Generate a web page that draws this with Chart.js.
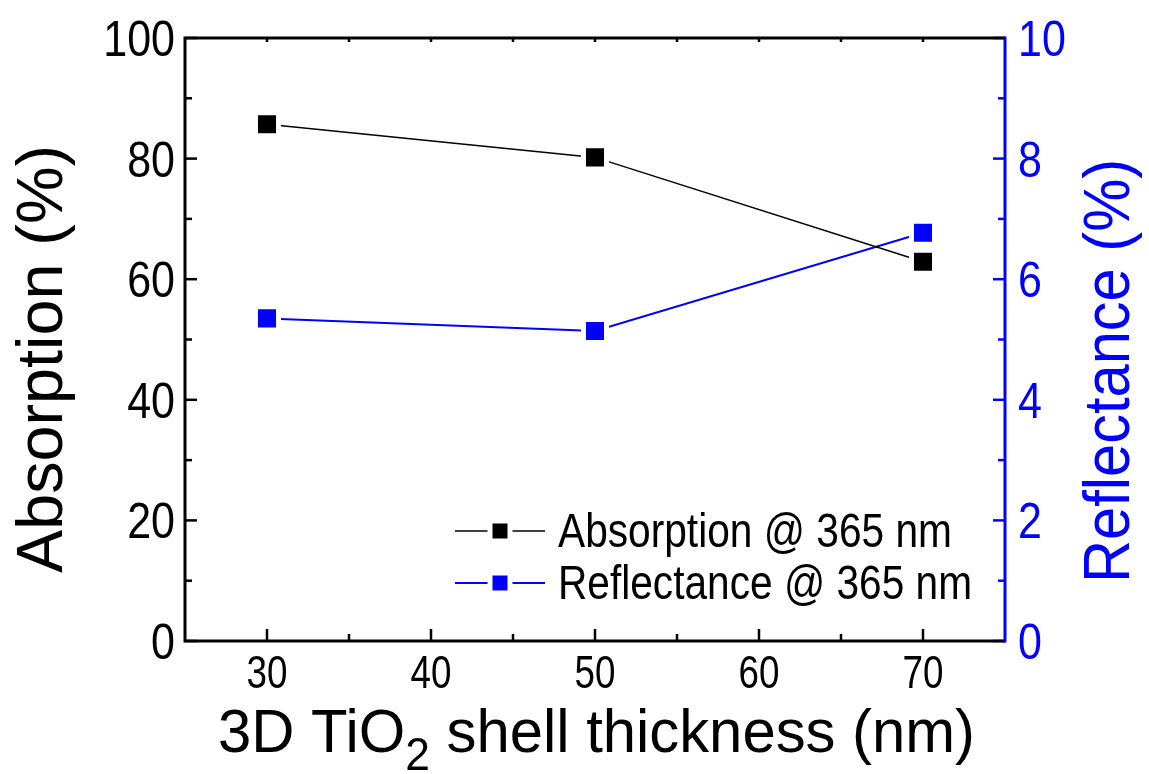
<!DOCTYPE html>
<html>
<head>
<meta charset="utf-8">
<script src="https://cdn.jsdelivr.net/npm/chart.js@4.4.1/dist/chart.umd.min.js"></script>
<style>
  html, body { margin: 0; padding: 0; background: #fff; }
  #wrap { width: 1149px; height: 774px; }
</style>
</head>
<body>
<div id="wrap"><canvas id="chart" width="1149" height="774"></canvas></div>
<script>
// data
const thickness = [30, 50, 70];
const absorption = [85.7, 80.2, 62.9];
const reflectance = [5.35, 5.14, 6.77];
const xTickValues = [30, 40, 50, 60, 70];
const legendLabels = ["Absorption @ 365 nm", "Reflectance @ 365 nm"];

const BLUE = "#0000ff";
const FONT = "'Liberation Sans', Arial, sans-serif";

// text with a horizontal squeeze (the original uses a narrow face)
function squeezeText(ctx, text, x, y, k, font, align) {
  ctx.save();
  ctx.font = font;
  const w = ctx.measureText(text).width;
  ctx.translate(x, y);
  ctx.scale(k, 1);
  ctx.textAlign = "left";
  ctx.textBaseline = "alphabetic";
  let x0 = 0;
  if (align === "center") x0 = -w / 2;
  if (align === "right") x0 = -w;
  ctx.fillText(text, x0, 0);
  ctx.restore();
}

// same but stretched to fit a given width
function fitText(ctx, text, x, y, width, font, align) {
  ctx.font = font;
  const k = width / ctx.measureText(text).width;
  squeezeText(ctx, text, x, y, k, font, align);
}

function drawMarker(ctx, x, y, half, color) {
  ctx.fillStyle = "#fff";
  ctx.fillRect(x - half - 5, y - half - 5, 2 * half + 10, 2 * half + 10);
  ctx.fillStyle = color;
  ctx.fillRect(x - half, y - half, 2 * half, 2 * half);
}

const framePlugin = {
  id: "frame",
  afterDraw(chart) {
    const ctx = chart.ctx;
    const a = chart.chartArea;
    const x = chart.scales.x, y = chart.scales.y, y1 = chart.scales.y1;
    ctx.save();
    ctx.lineCap = "butt";

    // ticks (inward)
    function hTicks(scale, vals, len, xEdge, dir, color) {
      ctx.strokeStyle = color;
      ctx.lineWidth = 2.5;
      vals.forEach(v => {
        const py = scale.getPixelForValue(v);
        ctx.beginPath();
        ctx.moveTo(xEdge, py);
        ctx.lineTo(xEdge + dir * len, py);
        ctx.stroke();
      });
    }
    function vTicks(vals, len, yEdge, dir) {
      ctx.strokeStyle = "#000";
      ctx.lineWidth = 2.5;
      vals.forEach(v => {
        const px = x.getPixelForValue(v);
        ctx.beginPath();
        ctx.moveTo(px, yEdge);
        ctx.lineTo(px, yEdge + dir * len);
        ctx.stroke();
      });
    }
    const yMaj = y.ticks.map(t => t.value);
    const yMin = yMaj.slice(1).map((v, i) => (v + yMaj[i]) / 2);
    const y1Maj = y1.ticks.map(t => t.value);
    const y1Min = y1Maj.slice(1).map((v, i) => (v + y1Maj[i]) / 2);
    const xMaj = x.ticks.map(t => t.value);
    const xMin = xMaj.slice(1).map((v, i) => (v + xMaj[i]) / 2);

    hTicks(y, yMaj, 12, a.left, 1, "#000");
    hTicks(y, yMin, 7, a.left, 1, "#000");
    hTicks(y1, y1Maj, 12, a.right, -1, BLUE);
    hTicks(y1, y1Min, 7, a.right, -1, BLUE);
    vTicks(xMaj, 12, a.bottom, -1);
    vTicks(xMin, 7, a.bottom, -1);
    vTicks(xMaj.concat(xMin), 4, a.top, 1);

    // frame
    ctx.lineWidth = 3;
    ctx.strokeStyle = "#000";
    ctx.beginPath();
    ctx.moveTo(a.right, a.top);
    ctx.lineTo(a.left, a.top);
    ctx.lineTo(a.left, a.bottom);
    ctx.lineTo(a.right, a.bottom);
    ctx.stroke();
    ctx.strokeStyle = BLUE;
    ctx.beginPath();
    ctx.moveTo(a.right, a.top - 1.5);
    ctx.lineTo(a.right, a.bottom + 1.5);
    ctx.stroke();

    // tick labels
    const tf = "50px " + FONT;
    ctx.fillStyle = "#000";
    yMaj.forEach(v => squeezeText(ctx, String(v), a.left - 10, y.getPixelForValue(v) + 18, 0.86, tf, "right"));
    ctx.fillStyle = BLUE;
    y1Maj.forEach(v => squeezeText(ctx, String(v), a.right + 13, y1.getPixelForValue(v) + 18, 0.86, tf, "left"));
    ctx.fillStyle = "#000";
    xMaj.forEach(v => squeezeText(ctx, String(v), x.getPixelForValue(v), 688, 0.8, "46px " + FONT, "center"));

    // axis titles
    ctx.fillStyle = "#000";
    ctx.save();
    ctx.translate(62, 359);
    ctx.rotate(-Math.PI / 2);
    fitText(ctx, "Absorption (%)", 0, 0, 428, "64px " + FONT, "center");
    ctx.restore();

    ctx.fillStyle = BLUE;
    ctx.save();
    ctx.translate(1129, 371);
    ctx.rotate(-Math.PI / 2);
    fitText(ctx, "Reflectance (%)", 0, 0, 424, "64px " + FONT, "center");
    ctx.restore();

    // x title with subscript
    ctx.fillStyle = "#000";
    const bigFont = "62px " + FONT, smallFont = "46px " + FONT;
    ctx.font = bigFont;
    const p1 = "3D TiO", p3 = " shell thickness (nm)";
    const w1 = ctx.measureText(p1).width, w3 = ctx.measureText(p3).width;
    ctx.font = smallFont;
    const w2 = ctx.measureText("2").width;
    const k = 757 / (w1 + w2 + w3);
    ctx.save();
    ctx.translate(218, 752);
    ctx.scale(k, 1);
    ctx.textBaseline = "alphabetic";
    ctx.textAlign = "left";
    ctx.font = bigFont;
    ctx.fillText(p1, 0, 0);
    ctx.font = smallFont;
    ctx.fillText("2", w1, 18);
    ctx.font = bigFont;
    ctx.fillText(p3, w1 + w2, 0);
    ctx.restore();

    // legend
    const widths = [394, 414];
    chart.data.datasets.forEach((ds, i) => {
      const ly = 531 + i * 52;
      ctx.strokeStyle = ds.borderColor;
      ctx.lineWidth = ds.borderWidth;
      ctx.beginPath();
      ctx.moveTo(455, ly);
      ctx.lineTo(545, ly);
      ctx.stroke();
      drawMarker(ctx, 500, ly, 7.5, ds.backgroundColor);
      ctx.fillStyle = "#000";
      fitText(ctx, legendLabels[i], 558, ly + 16, widths[i], "49px " + FONT, "left");
    });
    ctx.restore();
  }
};

const ctx = document.getElementById("chart").getContext("2d");
new Chart(ctx, {
  type: "line",
  data: {
    datasets: [
      {
        label: legendLabels[0],
        data: thickness.map((t, i) => ({ x: t, y: absorption[i] })),
        yAxisID: "y",
        borderColor: "#000",
        backgroundColor: "#000",
        borderWidth: 1.5,
        pointStyle: "rect",
        pointRadius: 16.3,
        pointBorderWidth: 5,
        pointBorderColor: "#fff",
        pointBackgroundColor: "#000",
        tension: 0
      },
      {
        label: legendLabels[1],
        data: thickness.map((t, i) => ({ x: t, y: reflectance[i] })),
        yAxisID: "y1",
        borderColor: BLUE,
        backgroundColor: BLUE,
        borderWidth: 2,
        pointStyle: "rect",
        pointRadius: 16.3,
        pointBorderWidth: 5,
        pointBorderColor: "#fff",
        pointBackgroundColor: BLUE,
        tension: 0
      }
    ]
  },
  options: {
    responsive: false,
    animation: false,
    devicePixelRatio: 1,
    layout: { padding: { top: 38, left: 0, right: 0, bottom: 0 } },
    plugins: {
      legend: { display: false },
      tooltip: { enabled: false }
    },
    scales: {
      x: {
        type: "linear",
        min: 25,
        max: 75,
        afterBuildTicks: s => { s.ticks = xTickValues.map(v => ({ value: v })); },
        afterFit: s => { s.height = 133; },
        grid: { display: false, drawTicks: false },
        border: { display: false },
        ticks: { display: false }
      },
      y: {
        position: "left",
        min: 0,
        max: 100,
        ticks: { stepSize: 20, display: false },
        afterFit: s => { s.width = 185; },
        grid: { display: false, drawTicks: false },
        border: { display: false }
      },
      y1: {
        position: "right",
        min: 0,
        max: 10,
        ticks: { stepSize: 2, display: false },
        afterFit: s => { s.width = 144; },
        grid: { display: false, drawTicks: false },
        border: { display: false }
      }
    }
  },
  plugins: [framePlugin]
});
</script>
</body>
</html>
